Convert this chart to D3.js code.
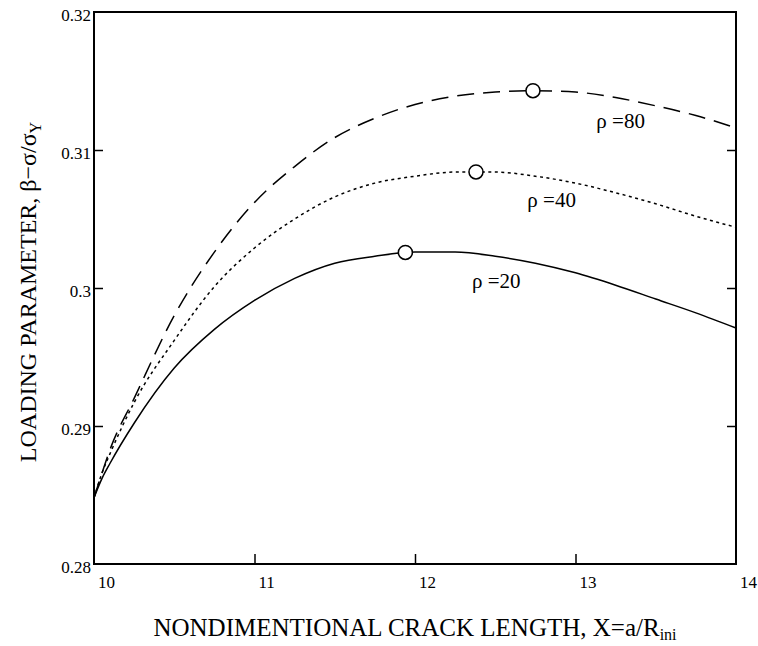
<!DOCTYPE html>
<html>
<head>
<meta charset="utf-8">
<script src="https://cdn.jsdelivr.net/npm/d3@7"></script>
<style>
  body { margin: 0; background: #fff; }
</style>
</head>
<body>
<div class="chart"></div>
<script>
// crack length X = a/R_ini
let xValues = [10, 10.05, 10.1, 10.25, 10.5, 10.75, 11, 11.25, 11.5, 11.75, 12, 12.25, 12.5, 12.75, 13, 13.25, 13.5, 13.75, 14];

// loading parameter for each rho
let rho20 = [0.2848, 0.2862, 0.2873, 0.2902, 0.2942, 0.2970, 0.2991, 0.3007, 0.3018, 0.3023, 0.3026, 0.3026, 0.3023, 0.3018, 0.3011, 0.3002, 0.2992, 0.2982, 0.2971];
let rho40 = [0.2848, 0.2866, 0.2880, 0.2917, 0.2962, 0.3001, 0.3029, 0.3050, 0.3066, 0.3076, 0.3081, 0.3084, 0.3084, 0.3081, 0.3076, 0.3069, 0.3061, 0.3052, 0.3044];
let rho80 = [0.2848, 0.2866, 0.2883, 0.2920, 0.2980, 0.3026, 0.3062, 0.3088, 0.3109, 0.3123, 0.3133, 0.3139, 0.3142, 0.3143, 0.3142, 0.3138, 0.3132, 0.3125, 0.3116];

// maximum points (circles)
let peakX = [11.94, 12.38, 12.735];
let peakY = [0.30258, 0.30841, 0.31430];

let seriesNames = ['\u03C1 =20', '\u03C1 =40', '\u03C1 =80'];
let xTicks = [10, 11, 12, 13, 14];
let yTicks = [0.28, 0.29, 0.30, 0.31, 0.32];
let yTickLabels = ['0.28', '0.29', '0.3', '0.31', '0.32'];

let margin = {top: 12, right: 22, bottom: 82, left: 94};
let width = 758 - margin.left - margin.right;
let height = 646 - margin.top - margin.bottom;

let root = d3.select('.chart')
  .append('svg')
    .attr('width', 758)
    .attr('height', 646)
    .attr('font-family', "'Liberation Serif', 'Times New Roman', Times, serif");

let svg = root.append('g')
    .attr('transform', `translate(${margin.left}, ${margin.top})`);

let xScale = d3.scaleLinear()
  .domain([10, 14])
  .range([0, width]);

let yScale = d3.scaleLinear()
  .domain([0.28, 0.32])
  .range([height, 0]);

// frame
svg.append('rect')
  .attr('width', width)
  .attr('height', height)
  .style('fill', 'none')
  .style('stroke', '#000')
  .style('stroke-width', 2);

// inner ticks, left and right and bottom
let innerY = yTicks.slice(1, -1);
svg.append('g')
  .call(d3.axisLeft(yScale).tickValues(innerY).tickSize(-9).tickFormat(''))
  .call(g => g.select('.domain').remove())
  .selectAll('line').style('stroke-width', 1.5);
svg.append('g')
  .attr('transform', `translate(${width}, 0)`)
  .call(d3.axisRight(yScale).tickValues(innerY).tickSize(-9).tickFormat(''))
  .call(g => g.select('.domain').remove())
  .selectAll('line').style('stroke-width', 1.5);
svg.append('g')
  .attr('transform', `translate(0, ${height})`)
  .call(d3.axisBottom(xScale).tickValues(xTicks.slice(1, -1)).tickSize(-10).tickFormat(''))
  .call(g => g.select('.domain').remove())
  .selectAll('line').style('stroke-width', 1.5);

// tick labels
svg.selectAll('.ylab')
  .data(yTicks)
  .enter().append('text')
    .attr('class', 'ylab')
    .attr('x', -3)
    .attr('y', (d) => yScale(d) + 9)
    .attr('text-anchor', 'end')
    .style('font-size', '17px')
    .text((d, i) => yTickLabels[i]);

svg.selectAll('.xlab')
  .data(xTicks)
  .enter().append('text')
    .attr('class', 'xlab')
    .attr('x', (d) => xScale(d) + 4)
    .attr('y', height + 24)
    .style('font-size', '17px')
    .text((d) => d);

// curves
let line = d3.line()
  .x((d) => xScale(d[0]))
  .y((d) => yScale(d[1]))
  .curve(d3.curveMonotoneX);

let series = [rho20, rho40, rho80];
let dashes = [null, '3,3.5', '17,9'];

series.forEach((vals, i) => {
  svg.append('path')
    .datum(xValues.map((x, j) => [x, vals[j]]))
    .attr('d', line)
    .style('fill', 'none')
    .style('stroke', '#000')
    .style('stroke-width', 1.5)
    .style('stroke-dasharray', dashes[i]);
});

svg.selectAll('.peak')
  .data(peakX)
  .enter().append('circle')
    .attr('class', 'peak')
    .attr('cx', (d) => xScale(d))
    .attr('cy', (d, i) => yScale(peakY[i]))
    .attr('r', 7)
    .style('fill', '#fff')
    .style('stroke', '#000')
    .style('stroke-width', 1.5);

// curve labels
let labelX = [12.355, 12.70, 13.13];
let labelY = [0.3000, 0.30587, 0.3116];
svg.selectAll('.clab')
  .data(seriesNames)
  .enter().append('text')
    .attr('class', 'clab')
    .attr('x', (d, i) => xScale(labelX[i]))
    .attr('y', (d, i) => yScale(labelY[i]))
    .style('font-size', '21px')
    .text((d) => d);

// axis titles
let xTitle = svg.append('text')
  .attr('x', width / 2)
  .attr('y', height + 72)
  .attr('text-anchor', 'middle')
  .style('font-size', '25px');
xTitle.append('tspan').text('NONDIMENTIONAL CRACK LENGTH, X=a/R');
xTitle.append('tspan').attr('dy', 4).style('font-size', '16px').text('ini');

let yTitle = svg.append('text')
  .attr('transform', `translate(${-58}, ${height / 2 + 4}) rotate(-90)`)
  .attr('text-anchor', 'middle')
  .style('font-size', '24px');
yTitle.append('tspan').text('LOADING PARAMETER, \u03B2\u2212\u03C3/\u03C3');
yTitle.append('tspan').attr('dy', 5).style('font-size', '16px').text('Y');
</script>
</body>
</html>
